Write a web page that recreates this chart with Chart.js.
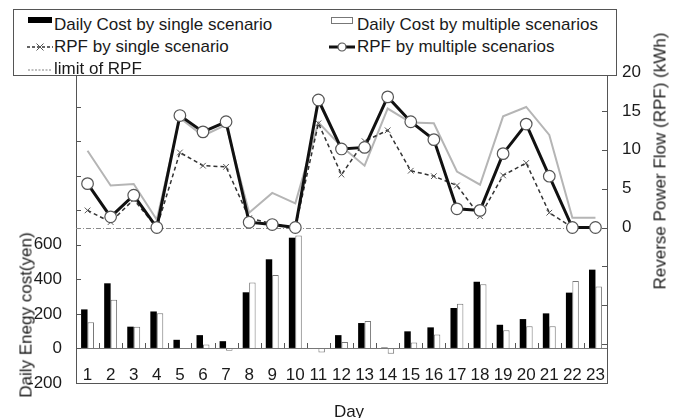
<!DOCTYPE html>
<html>
<head>
<meta charset="utf-8">
<script src="https://cdn.jsdelivr.net/npm/chart.js@4.4.1/dist/chart.umd.min.js"></script>
<style>
html,body{margin:0;padding:0;background:#fff;}
#wrap{position:relative;width:680px;height:418px;overflow:hidden;font-family:"Liberation Sans",Arial,sans-serif;color:#1a1a1a;}
canvas{position:absolute;left:0;top:0;}
#legendBox{position:absolute;left:13px;top:9px;width:602px;height:65px;border:1px solid #555;background:#fff;z-index:1;}
.item{position:absolute;font-size:17px;line-height:17px;white-space:nowrap;z-index:2;}
.mk{position:absolute;z-index:2;}
.title{position:absolute;font-size:17px;line-height:17px;white-space:nowrap;z-index:2;}
.rot{transform:translate(-50%,-50%) rotate(-90deg);}
</style>
</head>
<body>
<div id="wrap">
<canvas id="c" width="680" height="418"></canvas>
<div id="legendBox"></div>
<div class="mk" style="left:28px;top:17px;width:24px;height:6px;background:#000;"></div>
<div class="item" style="left:54px;top:16px;">Daily Cost by single scenario</div>
<div class="mk" style="left:331px;top:17px;width:20px;height:5px;background:#fff;border:1px solid #777;"></div>
<div class="item" style="left:357px;top:16px;">Daily Cost by multiple scenarios</div>
<svg class="mk" style="left:27px;top:41px;" width="26" height="12"><line x1="0" y1="6" x2="26" y2="6" stroke="#333" stroke-width="1.5" stroke-dasharray="3,2"/><path d="M9.5 2.5 L16.5 9.5 M16.5 2.5 L9.5 9.5" stroke="#555" stroke-width="1"/></svg>
<div class="item" style="left:54px;top:38px;">RPF by single scenario</div>
<svg class="mk" style="left:329px;top:41px;" width="26" height="12"><line x1="0" y1="6" x2="26" y2="6" stroke="#111" stroke-width="3"/><circle cx="13" cy="6" r="4" fill="#fff" stroke="#555" stroke-width="1.2"/></svg>
<div class="item" style="left:357px;top:38px;">RPF by multiple scenarios</div>
<svg class="mk" style="left:28px;top:64px;" width="24" height="12"><line x1="0" y1="6" x2="24" y2="6" stroke="#aaa" stroke-width="1.5" stroke-dasharray="2,1.5"/></svg>
<div class="item" style="left:54px;top:60px;">limit of RPF</div>
<div class="title rot" style="left:26px;top:315px;">Daily Enegy cost(yen)</div>
<div class="title rot" style="left:660px;top:161px;">Reverse Power Flow (RPF) (kWh)</div>
<div class="title" style="left:349px;top:411px;transform:translate(-50%,-50%);">Day</div>
</div>
<script>
const days = ['1','2','3','4','5','6','7','8','9','10','11','12','13','14','15','16','17','18','19','20','21','22','23'];
const costSingle   = [226,377,126,214,50,77,42,325,516,641,3,77,147,5,99,122,234,386,137,170,203,323,456];
const costMultiple = [151,282,126,203,-3,23,-14,381,425,653,-23,37,159,-31,35,81,259,371,106,129,128,390,359];
const rpfSingle    = [2.2,0.7,3.6,0,9.65,7.95,7.8,1.2,0.5,0,13.4,6.8,11.1,12.5,7.3,6.6,5.4,1.45,6.7,8.3,1.9,0,0];
const rpfMultiple  = [5.64,1.37,4.15,0,14.4,12.3,13.6,0.68,0.38,0,16.4,10.1,10.3,16.8,13.6,11.3,2.4,2.2,9.5,13.3,6.6,0,0];
const rpfLimit     = [9.87,5.4,5.6,1.0,14.1,11.8,13.2,1.9,4.45,3.1,13.5,10.4,7.95,15.3,13.5,13.4,7.2,5.5,14.3,15.5,11.9,1.25,1.25];
const costTickLabels = [-200,0,200,400,600];
const rpfTickLabels  = [0,5,10,15,20];

const FONT = {family:'"Liberation Sans", Arial, sans-serif', size:17};
const TXT = '#1a1a1a';
const CLEAR = 'rgba(0,0,0,0)';

const axisDecor = {
  id:'axisDecor',
  beforeDatasetsDraw(chart){
    const {ctx, chartArea:a, scales:{y1}} = chart;
    const r0 = Math.round(y1.getPixelForValue(0)) + 0.5;
    ctx.save();
    ctx.strokeStyle = '#8a8a8a'; ctx.lineWidth = 1;
    ctx.setLineDash([5,2,1,2]);
    ctx.beginPath(); ctx.moveTo(a.left, r0); ctx.lineTo(a.right, r0); ctx.stroke();
    ctx.restore();
  },
  afterDatasetsDraw(chart){
    const {ctx, chartArea:a, scales:{x,y,y1}} = chart;
    ctx.save();
    ctx.strokeStyle = '#555'; ctx.lineWidth = 1;
    ctx.beginPath();
    y.ticks.forEach(t => { const p = Math.round(y.getPixelForValue(t.value)) + 0.5; ctx.moveTo(a.left, p); ctx.lineTo(a.left + 5, p); });
    y1.ticks.forEach(t => { const p = Math.round(y1.getPixelForValue(t.value)) + 0.5; ctx.moveTo(a.right, p); ctx.lineTo(a.right - 5, p); });
    const z = Math.round(y.getPixelForValue(0));
    for (let i = 1; i < days.length; i++) {
      const px = Math.round((x.getPixelForValue(i - 1) + x.getPixelForValue(i)) / 2) + 0.5;
      ctx.moveTo(px, z); ctx.lineTo(px, z - 5);
    }
    const b = Math.round(y.getPixelForValue(-200)) + 0.5;
    ctx.moveTo(a.left, b); ctx.lineTo(a.right, b);
    ctx.stroke();
    ctx.restore();
  }
};

new Chart(document.getElementById('c'), {
  data: {
    labels: days,
    datasets: [
      {type:'line', label:'RPF by multiple scenarios', data:rpfMultiple, yAxisID:'y1', order:0,
       borderColor:'#111', borderWidth:3, tension:0,
       pointRadius:5.8, pointBackgroundColor:'#fff', pointBorderColor:'#555', pointBorderWidth:1.2},
      {type:'line', label:'RPF by single scenario', data:rpfSingle, yAxisID:'y1', order:1,
       borderColor:'#333', borderWidth:1.5, borderDash:[4,3], tension:0,
       pointStyle:'crossRot', pointRadius:4, pointBorderColor:'#555', pointBorderWidth:1},
      {type:'line', label:'limit of RPF', data:rpfLimit, yAxisID:'y1', order:2,
       borderColor:'#b5b5b5', borderWidth:2, pointRadius:0, tension:0},
      {type:'bar', label:'Daily Cost by single scenario', data:costSingle, yAxisID:'y', order:3,
       backgroundColor:'#000', borderWidth:0, categoryPercentage:0.56, barPercentage:1},
      {type:'bar', label:'Daily Cost by multiple scenarios', data:costMultiple, yAxisID:'y', order:4,
       backgroundColor:'#fff', borderColor:'#777', borderWidth:1, categoryPercentage:0.56, barPercentage:1}
    ]
  },
  options: {
    responsive:false, animation:false,
    layout:{padding:{top:72,left:0,right:0,bottom:0}},
    plugins:{legend:{display:false}, tooltip:{enabled:false}},
    scales:{
      x:{type:'category', offset:true,
         grid:{display:true, drawTicks:false, color:CLEAR}, border:{display:true, color:'#555', width:1},
         ticks:{autoSkip:false, maxRotation:0, minRotation:0, mirror:true, padding:-3, color:TXT, font:FONT},
         afterFit(s){ s.height = 35; }},
      y:{position:'left', min:-200, max:1600,
         ticks:{stepSize:200, padding:14, color:TXT, font:FONT,
                callback:(v)=> costTickLabels.includes(v) ? String(v) : ''},
         grid:{drawTicks:false, color:(c)=> (c.tick && c.tick.value === 0) ? '#777' : CLEAR},
         border:{display:true, color:'#555', width:1},
         afterFit(s){ s.width = 76; }},
      y1:{position:'right', min:-20, max:20,
         ticks:{stepSize:5, padding:15, color:TXT, font:FONT,
                callback:(v)=> rpfTickLabels.includes(v) ? String(v) : ''},
         grid:{display:true, drawOnChartArea:false, drawTicks:false, color:CLEAR},
         border:{display:true, color:'#555', width:1},
         afterFit(s){ s.width = 73; }}
    }
  },
  plugins:[axisDecor]
});
</script>
</body>
</html>
